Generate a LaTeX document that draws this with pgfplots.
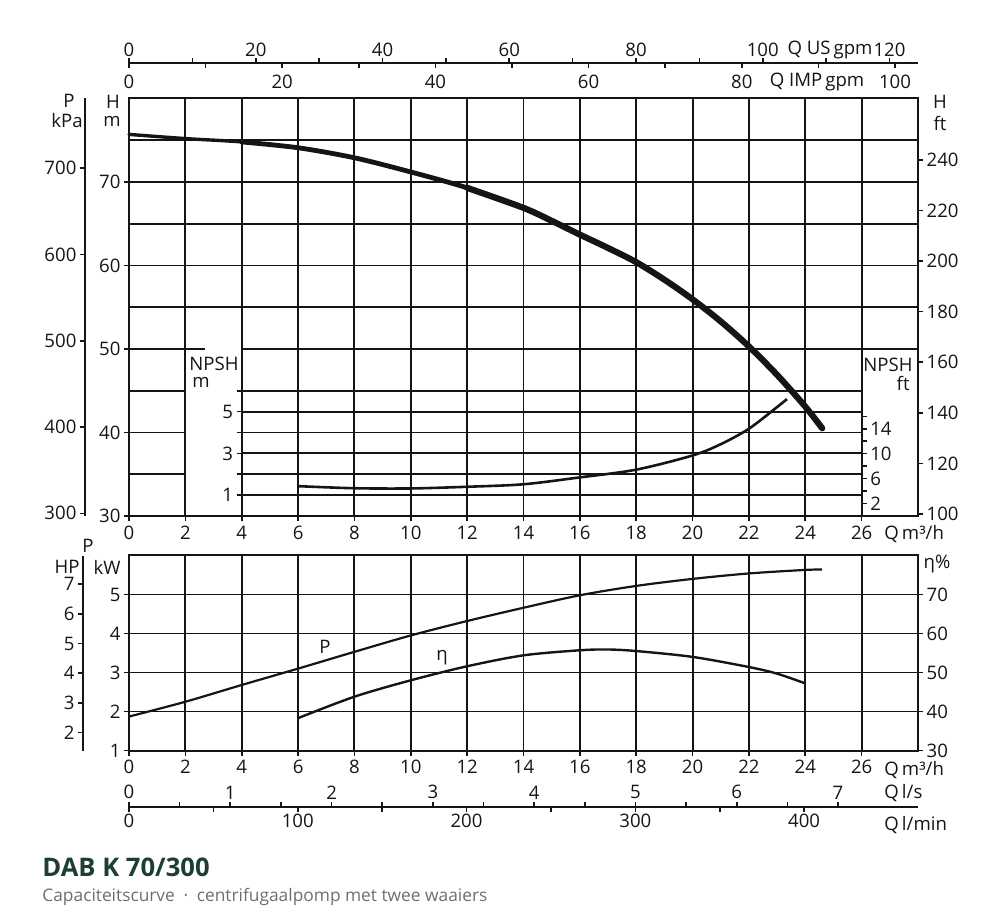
\documentclass[border=0pt]{standalone}
\usepackage{pgfplots}
\pgfplotsset{compat=1.18}
\usepackage{fontspec}
\setmainfont{Open Sans}
\definecolor{ink}{HTML}{151515}
\definecolor{titlegreen}{HTML}{1C3E33}
\definecolor{subgray}{HTML}{6B706D}
\newcommand\lbl{\fontsize{9.3}{10}\selectfont}

\tikzset{gl/.style={ink, line width=0.95pt}}
\pgfplotsset{
  base/.style={scale only axis, clip=false,
    axis line style={ink, line width=1pt, -},
    tick style={ink, line width=0.8pt},
    major tick length=2.6pt, tick align=outside,
    tick label style={font=\lbl, text=ink},
    xticklabel style={inner sep=1pt}, yticklabel style={inner sep=1.5pt},
    /pgf/number format/assume math mode=true,
    /pgf/number format/1000 sep={}},
  qx/.style={xmin=0, xmax=28, width=394.5pt, xtick={0,2,...,26}},
  yonly/.style={base, width=1pt, xmin=0, xmax=1, axis x line=none, axis y line*=left},
  xonly/.style={base, width=394.5pt, height=1pt, ymin=0, ymax=1, axis y line=none},
}

\begin{document}
\begin{tikzpicture}
\useasboundingbox (0,0) rectangle (500pt,461pt);

% ---- flow scales above the head chart
\begin{axis}[xonly, at={(64.5pt,429.35pt)}, anchor=north west, axis x line*=top,
  xmin=0, xmax=124.5, xtick={0,10,...,120},
  xticklabels={0,,20,,40,,60,,80,,100,,120},
  xticklabel style={yshift=-0.4pt}]
\end{axis}
\begin{axis}[xonly, at={(64.5pt,429.35pt)}, anchor=south west, axis x line*=bottom,
  xmin=0, xmax=103, xtick={0,10,...,100},
  xticklabels={0,,20,,40,,60,,80,,100},
  xticklabel style={yshift=-2.2pt}]
\end{axis}

% ---- head chart: H m
\begin{axis}[base, qx, at={(64.5pt,203pt)}, anchor=south west, height=208.75pt,
  ymin=30, ymax=80, ytick={30,40,...,70}, xtick pos=left, ytick pos=left,
  xticklabel style={yshift=-1.4pt},
  xmajorgrids, major grid style={ink, line width=0.95pt}]
\pgfplotsinvokeforeach{55,60,65,70,75}{\draw[gl] (0,#1) -- (28,#1);}
\draw[gl] (0,50) -- (2.7,50) (4,50) -- (28,50);
\pgfplotsinvokeforeach{35,40,45}{\draw[gl] (0,#1) -- (2,#1) (4,#1) -- (26,#1);}
\pgfplotsinvokeforeach{32.5,37.5,42.5}{\draw[gl] (4,#1) -- (26,#1);}
% head curve, growing thicker along the flow
\addplot[ink, line width=1.7pt, smooth, line cap=round] coordinates
  {(0,75.7) (2,75.2) (4,74.8) (6,74.1) (8,72.9)};
\addplot[ink, line width=2.4pt, smooth, line cap=round] coordinates
  {(4,74.8) (6,74.1) (8,72.9) (10,71.2) (12,69.3) (14,66.9) (16,63.7)};
\addplot[ink, line width=3.1pt, smooth, line cap=round] coordinates
  {(12,69.3) (14,66.9) (15,65.35) (16,63.7) (17,62.1) (18,60.4) (19,58.3)
   (20,55.95) (21,53.3) (22,50.3) (23,46.9) (24,43.1) (24.6,40.5)};
\end{axis}

% pressure kPa
\begin{axis}[yonly, at={(42.5pt,203pt)}, anchor=south west, height=208.75pt,
  ymin=296.9, ymax=780.9, ytick={300,400,...,700},
  y axis line style={line width=0.7pt}]
\end{axis}
% head ft
\begin{axis}[base, qx, at={(64.5pt,203pt)}, anchor=south west, height=208.75pt,
  ymin=99.2, ymax=264.3, ytick={100,120,...,240},
  axis x line=none, axis y line*=right]
\end{axis}

% ---- NPSH inset
\begin{axis}[base, scale only axis, at={(120.86pt,203pt)}, anchor=south west,
  width=309.96pt, height=208.75pt, xmin=4, xmax=26, ymin=0, ymax=20,
  axis x line=none, axis y line*=left, y axis line style={draw=none},
  ytick={1,...,6}, yticklabels={1,,3,,5,}]
\addplot[ink, line width=1.3pt, smooth] coordinates
  {(6,1.43) (8,1.33) (10,1.32) (12,1.4) (14,1.52) (16,1.85) (18,2.22)
   (20,2.9) (21,3.44) (22,4.18) (23,5.22) (23.35,5.6)};
\end{axis}
\begin{axis}[base, scale only axis, at={(120.86pt,203pt)}, anchor=south west,
  width=309.96pt, height=208.75pt, xmin=4, xmax=26, ymin=0, ymax=67,
  axis x line=none, axis y line*=right, y axis line style={draw=none},
  ytick={2,4,...,16}, yticklabels={2,,6,,10,,14,}]
\end{axis}

% ---- power / efficiency chart
\begin{axis}[base, qx, at={(64.5pt,85.75pt)}, anchor=south west, height=97.5pt,
  ymin=1, ymax=6, ytick={1,...,5}, xtick pos=left, ytick pos=left,
  xticklabel style={yshift=-1.2pt},
  grid=major, major grid style={ink, line width=0.95pt}]
\addplot[ink, line width=1.1pt, smooth] coordinates
  {(0,1.87) (2,2.25) (4,2.68) (6,3.1) (8,3.53) (10,3.95) (12,4.32) (14,4.66)
   (16,4.98) (18,5.22) (20,5.40) (22,5.54) (24,5.63) (24.6,5.64)};
\end{axis}
\begin{axis}[base, qx, at={(64.5pt,85.75pt)}, anchor=south west, height=97.5pt,
  ymin=30, ymax=80, ytick={30,40,...,70}, axis x line=none, axis y line*=right]
\addplot[ink, line width=1.2pt, smooth] coordinates
  {(6,38.3) (8,43.8) (10,48.0) (12,51.6) (14,54.4) (16,55.7) (17,55.9) (18,55.5)
   (20,54.0) (22,51.4) (23,49.7) (24,47.2)};
\end{axis}
% power HP
\begin{axis}[yonly, at={(41.5pt,85.75pt)}, anchor=south west, height=97.5pt,
  ymin=1.40, ymax=7.96, ytick={2,...,7},
  y axis line style={line width=0.7pt}]
\end{axis}

% ---- flow scales below
\begin{axis}[xonly, at={(64.5pt,57.65pt)}, anchor=north west, axis x line*=top,
  xmin=0, xmax=7.79, xtick={0,0.5,...,7},
  xticklabels={0,,1,,2,,3,,4,,5,,6,,7}]
\end{axis}
\begin{axis}[xonly, at={(64.5pt,57.65pt)}, anchor=south west, axis x line*=bottom,
  xmin=0, xmax=467.5, xtick={0,50,...,400},
  xticklabels={0,,100,,200,,300,,400}]
\end{axis}

% ---- text, in pixel units of the page
\begin{scope}[x=0.5pt, y=-0.5pt, yshift=461pt, every node/.style={font=\lbl, text=ink, inner sep=0pt}]
\node at (69,101) {P};
\node at (67,121) {kPa};
\node at (113,102) {H};
\node at (112,121) {m};
\node at (940,102) {H};
\node at (940,123) {ft};
\node at (830,50) {Q US\kern1.5pt gpm};
\node at (817,82) {Q IMP\kern1.5pt gpm};
\node[anchor=west] at (189,364) {NPSH};
\node[anchor=west] at (192,382) {m};
\node[anchor=east] at (913,365) {NPSH};
\node[anchor=east] at (910,383) {ft};
\node[anchor=west] at (884,534) {Q\,m³/h};
\node at (67,567) {HP};
\node at (88,546) {P};
\node at (107,567) {kW};
\node at (937,564) {η\%};
\node at (325,647) {P};
\node at (442,658) {η};
\node[anchor=west] at (884,770) {Q\,m³/h};
\node[anchor=west] at (884,793) {Q\,l/s};
\node[anchor=west] at (884,825) {Q\,l/min};
\node[anchor=base west, font=\fontsize{12.8}{14}\selectfont\bfseries, text=titlegreen]
  at (42,876) {DAB K 70/300};
\node[anchor=base west, font=\fontsize{8.67}{10}\selectfont, text=subgray]
  at (42,901.7) {Capaciteitscurve\enspace·\enspace centrifugaalpomp met twee waaiers};
\end{scope}
\end{tikzpicture}
\end{document}
